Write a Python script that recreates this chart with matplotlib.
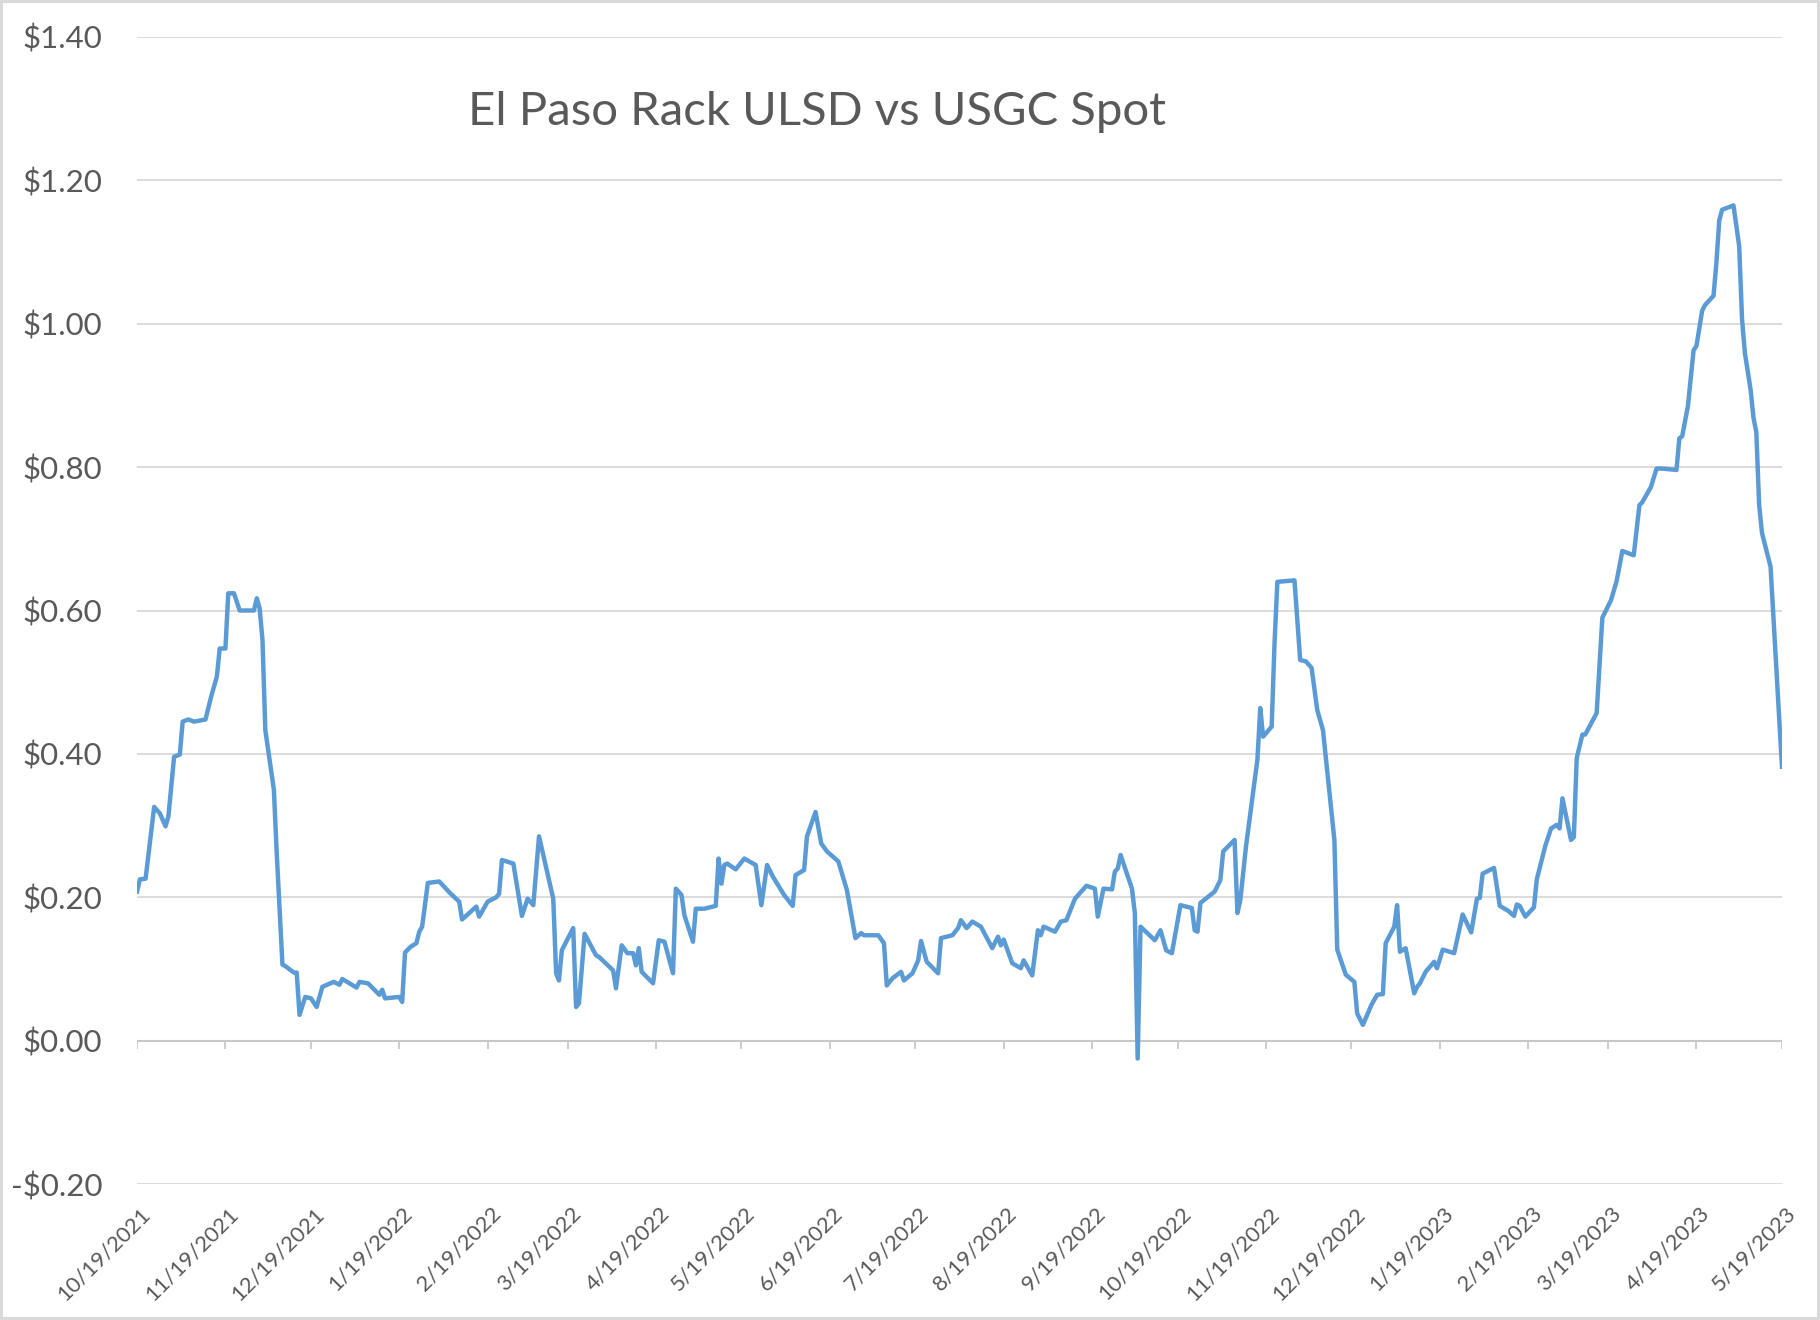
import matplotlib
matplotlib.use("Agg")
import matplotlib.pyplot as plt
import matplotlib.transforms as mtransforms
import pandas as pd

# spread, $/gal; x as days after the first date
start_date = "2021-10-19"
days_since_start = [
    0, 1, 3, 6, 8, 10, 11, 13, 15, 16, 18, 20, 24, 26, 28, 29, 31, 32, 34, 36,
    41, 42, 43, 44, 45, 48, 49, 51, 52, 55, 56, 57, 59, 61, 63, 65, 69, 71, 72, 77,
    78, 81, 85, 86, 87, 92, 93, 94, 96, 98, 99, 100, 102, 106, 110, 113, 114, 119, 120, 123,
    126, 127, 128, 132, 135, 137, 139, 141, 146, 147, 148, 149, 153, 154, 155, 157, 161, 162, 167, 168,
    170, 172, 174, 175, 176, 177, 181, 183, 185, 188, 189, 191, 192, 195, 196, 199, 203, 204, 205, 206,
    207, 210, 213, 217, 219, 221, 223, 227, 230, 231, 234, 235, 238, 240, 242, 246, 249, 252, 254, 255,
    260, 262, 263, 265, 268, 269, 272, 274, 275, 277, 281, 282, 286, 288, 289, 291, 293, 296, 300, 302,
    303, 304, 307, 310, 311, 314, 316, 317, 318, 322, 324, 326, 329, 333, 336, 337, 339, 342, 343, 344,
    345, 349, 350, 351, 352, 357, 359, 361, 363, 366, 370, 371, 372, 373, 378, 380, 381, 385, 386, 387,
    389, 393, 394, 395, 398, 399, 400, 406, 408, 410, 412, 414, 416, 420, 421, 424, 427, 428, 430, 433,
    435, 437, 438, 441, 442, 443, 445, 448, 449, 450, 452, 455, 456, 458, 462, 465, 468, 470, 471, 472,
    476, 478, 481, 483, 484, 485, 487, 490, 491, 494, 496, 498, 499, 500, 503, 504, 505, 507, 508, 512,
    514, 517, 519, 521, 525, 527, 528, 531, 533, 535, 540, 541, 542, 544, 546, 547, 549, 550, 553, 554,
    555, 556, 560, 562, 563, 564, 566, 567, 568, 569, 570, 573, 577,
]
spread = [
    0.208, 0.225, 0.226, 0.326, 0.317, 0.299, 0.313, 0.396, 0.399, 0.445, 0.448, 0.445, 0.448, 0.480, 0.508, 0.547, 0.547, 0.624, 0.624, 0.600,
    0.600, 0.617, 0.603, 0.559, 0.433, 0.350, 0.261, 0.106, 0.104, 0.095, 0.095, 0.036, 0.061, 0.059, 0.047, 0.075, 0.082, 0.078, 0.086, 0.074,
    0.082, 0.080, 0.064, 0.071, 0.059, 0.061, 0.054, 0.123, 0.131, 0.136, 0.152, 0.159, 0.220, 0.222, 0.205, 0.194, 0.169, 0.187, 0.173, 0.194,
    0.200, 0.205, 0.252, 0.247, 0.174, 0.198, 0.189, 0.285, 0.198, 0.094, 0.084, 0.126, 0.157, 0.047, 0.052, 0.149, 0.119, 0.117, 0.098, 0.073,
    0.133, 0.122, 0.122, 0.105, 0.129, 0.096, 0.080, 0.140, 0.138, 0.094, 0.212, 0.203, 0.175, 0.138, 0.184, 0.184, 0.188, 0.254, 0.219, 0.245,
    0.247, 0.239, 0.254, 0.245, 0.189, 0.245, 0.229, 0.203, 0.188, 0.231, 0.238, 0.285, 0.319, 0.275, 0.264, 0.250, 0.210, 0.143, 0.150, 0.147,
    0.147, 0.136, 0.077, 0.087, 0.096, 0.084, 0.094, 0.112, 0.139, 0.110, 0.094, 0.143, 0.147, 0.157, 0.168, 0.157, 0.166, 0.159, 0.129, 0.145,
    0.133, 0.141, 0.108, 0.101, 0.112, 0.091, 0.154, 0.147, 0.159, 0.152, 0.166, 0.168, 0.198, 0.216, 0.212, 0.173, 0.212, 0.211, 0.236, 0.240,
    0.259, 0.212, 0.178, -0.025, 0.159, 0.140, 0.154, 0.126, 0.122, 0.189, 0.185, 0.154, 0.152, 0.192, 0.208, 0.224, 0.264, 0.280, 0.178, 0.196,
    0.271, 0.392, 0.464, 0.424, 0.438, 0.554, 0.640, 0.642, 0.531, 0.529, 0.520, 0.461, 0.433, 0.280, 0.127, 0.092, 0.082, 0.038, 0.022, 0.050,
    0.064, 0.065, 0.136, 0.159, 0.189, 0.124, 0.129, 0.066, 0.075, 0.080, 0.096, 0.110, 0.101, 0.127, 0.122, 0.176, 0.151, 0.198, 0.199, 0.233,
    0.241, 0.188, 0.181, 0.174, 0.190, 0.188, 0.173, 0.186, 0.225, 0.272, 0.296, 0.301, 0.296, 0.338, 0.280, 0.284, 0.394, 0.427, 0.427, 0.457,
    0.590, 0.614, 0.641, 0.683, 0.677, 0.747, 0.751, 0.772, 0.798, 0.798, 0.796, 0.840, 0.843, 0.885, 0.963, 0.969, 1.018, 1.026, 1.039, 1.085,
    1.144, 1.159, 1.165, 1.108, 1.006, 0.959, 0.908, 0.869, 0.849, 0.747, 0.708, 0.661, 0.382,
]

tick_labels = [
    "10/19/2021", "11/19/2021", "12/19/2021", "1/19/2022", "2/19/2022", "3/19/2022",
    "4/19/2022", "5/19/2022", "6/19/2022", "7/19/2022", "8/19/2022", "9/19/2022",
    "10/19/2022", "11/19/2022", "12/19/2022", "1/19/2023", "2/19/2023", "3/19/2023",
    "4/19/2023", "5/19/2023",
]
y_ticks = [-0.2, 0.0, 0.2, 0.4, 0.6, 0.8, 1.0, 1.2, 1.4]
y_labels = ["-$0.20", "$0.00", "$0.20", "$0.40", "$0.60", "$0.80", "$1.00", "$1.20", "$1.40"]
title = "El Paso Rack ULSD vs USGC Spot"

plt.rcParams["font.family"] = ["Lato", "DejaVu Sans"]
text_color = "#595959"
grid_color = "#D9D9D9"

dates = pd.Timestamp(start_date) + pd.to_timedelta(days_since_start, unit="D")
tick_dates = pd.to_datetime(tick_labels, format="%m/%d/%Y")

fig = plt.figure(figsize=(18.2, 13.2), dpi=100)
fig.patch.set_edgecolor(grid_color)
fig.patch.set_linewidth(3)
ax = fig.add_axes([0.0753, 0.103, 0.9038, 0.869])

ax.plot(dates, spread, color="#5B9BD5", linewidth=3.2, solid_joinstyle="round", zorder=3)

ax.set_xlim(tick_dates[0], tick_dates[-1])
ax.set_ylim(-0.2, 1.4)
ax.set_yticks(y_ticks)
ax.set_yticklabels(y_labels)
ax.yaxis.grid(True, color=grid_color, linewidth=1.3)
ax.set_axisbelow(True)
for s in ax.spines.values():
    s.set_visible(False)

# horizontal axis line sits at zero, with its tick marks hanging below
ax.axhline(0, color="#C8C8C8", linewidth=1.5, zorder=2)
ax.vlines(tick_dates, -0.012, 0, color="#C8C8C8", linewidth=1.3, zorder=2)

ax.set_xticks(tick_dates)
ax.set_xticklabels(tick_labels, rotation=45, ha="right", va="top", rotation_mode="anchor")
ax.tick_params(axis="x", length=0, pad=14, labelsize=15.8, labelcolor=text_color)
ax.tick_params(axis="y", length=0, pad=25, labelsize=22.5, labelcolor=text_color)
shift = mtransforms.ScaledTranslation(3 / 100, 0, fig.dpi_scale_trans)
for lbl in ax.get_xticklabels():
    lbl.set_transform(lbl.get_transform() + shift)

fig.text(0.449, 0.915, title, ha="center", va="center", fontsize=34, color=text_color)

fig.savefig("out.png", dpi=100, edgecolor=fig.get_edgecolor())
